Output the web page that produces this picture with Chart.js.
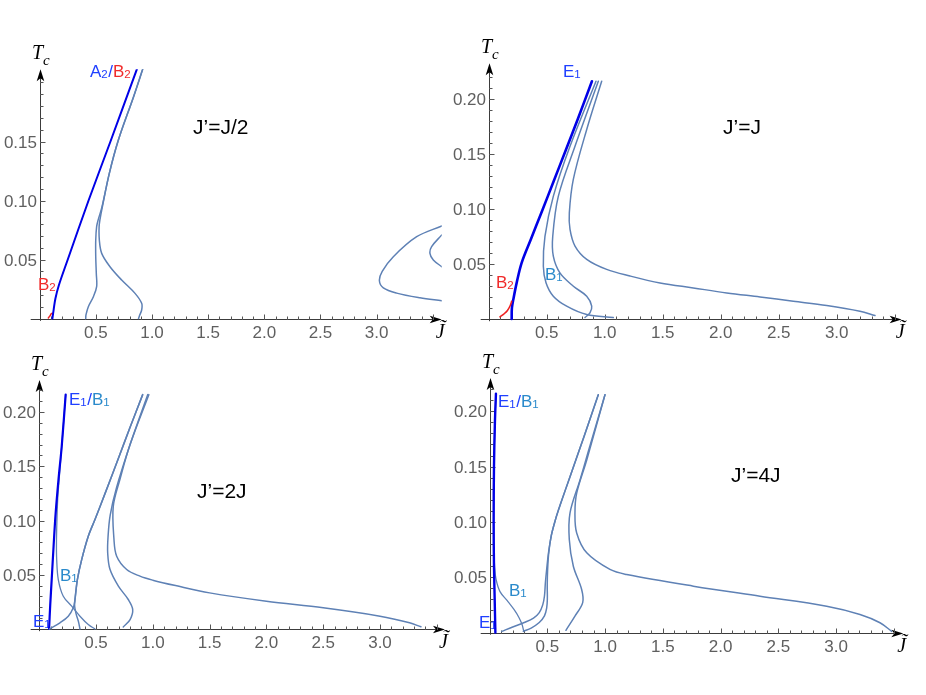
<!DOCTYPE html>
<html><head><meta charset="utf-8">
<script src="https://cdn.jsdelivr.net/npm/chart.js@4.4.0/dist/chart.umd.min.js"></script>
<style>
html,body{margin:0;padding:0;background:#fff;width:926px;height:695px;overflow:hidden}
canvas{position:absolute;left:0;top:0}
</style></head><body>
<canvas id="c0" width="926" height="695"></canvas>
<canvas id="c1" width="926" height="695"></canvas>
<canvas id="c2" width="926" height="695"></canvas>
<canvas id="c3" width="926" height="695"></canvas>
<script>
// ---------- DATA ----------
const panelTitles = ['J\u2019=J/2', 'J\u2019=J', 'J\u2019=2J', 'J\u2019=4J'];
const xTickValues = [0.5, 1.0, 1.5, 2.0, 2.5, 3.0];
const xTickLabels = ['0.5', '1.0', '1.5', '2.0', '2.5', '3.0'];
const yTickValuesTL = [0.05, 0.10, 0.15];
const yTickLabelsTL = ['0.05', '0.10', '0.15'];
const yTickValues = [0.05, 0.10, 0.15, 0.20];
const yTickLabels = ['0.05', '0.10', '0.15', '0.20'];

// J'=J/2
const tlBlueX = [0.113, 0.125, 0.14, 0.17, 0.25, 0.435, 0.63, 0.865];
const tlBlueY = [0, 0.008, 0.017, 0.028, 0.05, 0.10, 0.15, 0.2112];
const tlRedX = [0.077, 0.09, 0.103, 0.112];
const tlRedY = [0.0005, 0.002, 0.004, 0.0045];
const tlS1X = [0.917, 0.836, 0.70, 0.62, 0.555, 0.522, 0.507, 0.499, 0.499, 0.504, 0.507, 0.478, 0.433, 0.412, 0.41];
const tlS1Y = [0.2112, 0.188, 0.151, 0.123, 0.0947, 0.084, 0.0778, 0.0665, 0.0524, 0.0383, 0.027, 0.0185, 0.01, 0.003, 0];
const tlS2X = [0.917, 0.836, 0.70, 0.62, 0.558, 0.537, 0.529, 0.531, 0.552, 0.626, 0.73, 0.849, 0.908, 0.908, 0.887, 0.88];
const tlS2Y = [0.2112, 0.188, 0.151, 0.123, 0.0947, 0.084, 0.0778, 0.0665, 0.0552, 0.0439, 0.0326, 0.0213, 0.0129, 0.0072, 0.002, 0];
const tlP1X = [3.58, 3.357, 3.149, 3.05, 3.025, 3.06, 3.179, 3.386, 3.58];
const tlP1Y = [0.0784, 0.0693, 0.0524, 0.04, 0.032, 0.026, 0.0215, 0.0175, 0.015];
const tlP2X = [3.58, 3.49, 3.475, 3.505, 3.58];
const tlP2Y = [0.0708, 0.0609, 0.0552, 0.0496, 0.0439];

// J'=J
const trBlueX = [0.198, 0.2, 0.212, 0.241, 0.284, 0.362, 0.46, 0.56, 0.66, 0.77, 0.89];
const trBlueY = [0, 0.01, 0.0176, 0.0328, 0.051, 0.072, 0.098, 0.125, 0.152, 0.182, 0.2157];
const trRedX = [0.097, 0.13, 0.16, 0.185, 0.198];
const trRedY = [0.002, 0.0045, 0.0075, 0.012, 0.016];
const trS1X = [0.925, 0.701, 0.557, 0.485, 0.471, 0.494, 0.557, 0.672, 0.845, 1.074];
const trS1Y = [0.2157, 0.1567, 0.1113, 0.075, 0.0478, 0.0329, 0.0207, 0.0116, 0.004, 0.0013];
const trS2X = [0.945, 0.744, 0.6, 0.552, 0.557, 0.614, 0.73, 0.845, 0.888, 0.873, 0.83];
const trS2Y = [0.2157, 0.1567, 0.1113, 0.075, 0.057, 0.0418, 0.0297, 0.0207, 0.0116, 0.0056, 0.0013];
const trS3X = [0.974, 0.845, 0.729, 0.695, 0.701, 0.744, 0.845, 1.017, 1.218, 1.477, 1.764, 2.052, 2.339, 2.626, 2.914, 3.2, 3.33];
const trS3Y = [0.2157, 0.172, 0.1265, 0.0963, 0.0813, 0.0662, 0.0541, 0.045, 0.039, 0.0327, 0.0282, 0.0237, 0.0200, 0.0161, 0.0122, 0.007, 0.0031];

// J'=2J
const blBlueX = [0.087, 0.097, 0.11, 0.127, 0.145, 0.17, 0.198, 0.233];
const blBlueY = [0, 0.022, 0.0456, 0.077, 0.107, 0.138, 0.168, 0.216];
const blB1X = [0.233, 0.198, 0.177, 0.163, 0.156, 0.152, 0.154, 0.168, 0.212, 0.286, 0.359, 0.432, 0.491];
const blB1Y = [0.216, 0.168, 0.14, 0.12, 0.1, 0.08, 0.064, 0.0456, 0.0302, 0.0211, 0.0118, 0.0041, 0];
const blR1X = [0.091, 0.183, 0.256, 0.3, 0.315, 0.336, 0.374, 0.432, 0.491, 0.58, 0.70, 0.80, 0.911];
const blR1Y = [0, 0.0057, 0.0118, 0.0195, 0.0272, 0.0456, 0.064, 0.0855, 0.101, 0.125, 0.158, 0.186, 0.216];
const blR2X = [0.359, 0.345, 0.325, 0.312, 0.315, 0.336, 0.374, 0.432, 0.491, 0.58, 0.70, 0.80, 0.911];
const blR2Y = [0, 0.007, 0.014, 0.021, 0.0272, 0.0456, 0.064, 0.0855, 0.101, 0.125, 0.158, 0.186, 0.216];
const blSX = [0.955, 0.80, 0.68, 0.625, 0.606, 0.603, 0.623, 0.697, 0.784, 0.823, 0.80, 0.74];
const blSY = [0.216, 0.17, 0.13, 0.105, 0.085, 0.07, 0.055, 0.0395, 0.0272, 0.018, 0.0087, 0.0019];
const blBigX = [0.965, 0.80, 0.711, 0.652, 0.658, 0.682, 0.77, 0.887, 1.0, 1.2, 1.5, 2.0, 2.5, 3.0, 3.26, 3.36];
const blBigY = [0.216, 0.17, 0.138, 0.113, 0.083, 0.067, 0.0548, 0.0487, 0.045, 0.040, 0.0333, 0.0256, 0.0195, 0.0118, 0.0057, 0.002];

// J'=4J
const brBlueX = [0.05, 0.044, 0.038, 0.035, 0.038, 0.046, 0.055];
const brBlueY = [0, 0.03, 0.06, 0.1, 0.15, 0.19, 0.216];
const brB1X = [0.055, 0.046, 0.038, 0.035, 0.037, 0.043, 0.056, 0.09, 0.151, 0.211, 0.254, 0.281, 0.294];
const brB1Y = [0.216, 0.19, 0.15, 0.1, 0.075, 0.06, 0.048, 0.037, 0.029, 0.0208, 0.0136, 0.0072, 0.0018];
const brR1X = [0.105, 0.2, 0.3, 0.38, 0.43, 0.46, 0.475, 0.483, 0.495, 0.51, 0.535, 0.57, 0.61, 0.70, 0.82, 0.941];
const brR1Y = [0.001, 0.005, 0.009, 0.013, 0.018, 0.025, 0.033, 0.045, 0.058, 0.072, 0.088, 0.102, 0.115, 0.142, 0.178, 0.215];
const brR2X = [0.292, 0.36, 0.43, 0.475, 0.494, 0.5, 0.499, 0.502, 0.512, 0.535, 0.57, 0.61, 0.70, 0.82, 0.941];
const brR2Y = [0.001, 0.004, 0.009, 0.015, 0.022, 0.03, 0.042, 0.056, 0.072, 0.088, 0.102, 0.115, 0.142, 0.178, 0.215];
const brSX = [0.999, 0.85, 0.783, 0.696, 0.69, 0.725, 0.797, 0.806, 0.739, 0.661];
const brSY = [0.215, 0.162, 0.138, 0.108, 0.0841, 0.0599, 0.0389, 0.027, 0.0148, 0.002];
const brBigX = [0.999, 0.841, 0.754, 0.739, 0.754, 0.841, 1.042, 1.187, 1.764, 2.341, 2.918, 3.207, 3.38, 3.481];
const brBigY = [0.215, 0.156, 0.126, 0.108, 0.09, 0.072, 0.057, 0.0524, 0.0419, 0.0328, 0.0238, 0.0163, 0.0088, 0.001];

// ---------- STYLE / LAYOUT ----------
const STEEL = '#5e81b5', BLUE = '#0000e6', RED = '#ee2222';
const LBLUE = '#2040ff', LRED = '#f02a2a', LTEAL = '#2a8acb';
const W = 926, H = 695;
const layouts = [
  {x0: 39.7, ux: 112.3, y0: 318.5, uy: 1180, xMin: -0.08, xMax: 3.58, yMin: -0.002, yMax: 0.2112},
  {x0: 488.7, ux: 116, y0: 319, uy: 1102, xMin: -0.069, xMax: 3.56, yMin: -0.002, yMax: 0.232},
  {x0: 39.2, ux: 113.6, y0: 629, uy: 1085, xMin: -0.075, xMax: 3.572, yMin: -0.002, yMax: 0.2295},
  {x0: 489.6, ux: 115.5, y0: 632.5, uy: 1106, xMin: -0.077, xMax: 3.582, yMin: -0.002, yMax: 0.23}
];
const panelSeries = [
  [ {x: tlS1X, y: tlS1Y, c: STEEL, w: 1.5}, {x: tlS2X, y: tlS2Y, c: STEEL, w: 1.5},
    {x: tlP1X, y: tlP1Y, c: STEEL, w: 1.5}, {x: tlP2X, y: tlP2Y, c: STEEL, w: 1.5},
    {x: tlBlueX, y: tlBlueY, c: BLUE, w: 2}, {x: tlRedX, y: tlRedY, c: RED, w: 1.5} ],
  [ {x: trS1X, y: trS1Y, c: STEEL, w: 1.5}, {x: trS2X, y: trS2Y, c: STEEL, w: 1.5},
    {x: trS3X, y: trS3Y, c: STEEL, w: 1.5}, {x: trRedX, y: trRedY, c: RED, w: 1.6},
    {x: trBlueX, y: trBlueY, c: BLUE, w: 2.6} ],
  [ {x: blR1X, y: blR1Y, c: STEEL, w: 1.5}, {x: blR2X, y: blR2Y, c: STEEL, w: 1.5},
    {x: blSX, y: blSY, c: STEEL, w: 1.5}, {x: blBigX, y: blBigY, c: STEEL, w: 1.5},
    {x: blBlueX, y: blBlueY, c: BLUE, w: 2.2}, {x: blB1X, y: blB1Y, c: STEEL, w: 1.3} ],
  [ {x: brR1X, y: brR1Y, c: STEEL, w: 1.5}, {x: brR2X, y: brR2Y, c: STEEL, w: 1.5},
    {x: brSX, y: brSY, c: STEEL, w: 1.5}, {x: brBigX, y: brBigY, c: STEEL, w: 1.5},
    {x: brBlueX, y: brBlueY, c: BLUE, w: 2.4}, {x: brB1X, y: brB1Y, c: STEEL, w: 1.3} ]
];
const panelLabels = [
  [ {x: 90, y: 77, parts: [['A', LBLUE], ['2', LBLUE, 1], ['/', LBLUE], ['B', LRED], ['2', LRED, 1]]},
    {x: 38, y: 290, parts: [['B', LRED], ['2', LRED, 1]]},
    {x: 193, y: 134, big: 1, parts: [[panelTitles[0], '#000']]} ],
  [ {x: 563, y: 77, parts: [['E', LBLUE], ['1', LBLUE, 1]]},
    {x: 496, y: 288, parts: [['B', LRED], ['2', LRED, 1]]},
    {x: 545, y: 280, parts: [['B', LTEAL], ['1', LTEAL, 1]]},
    {x: 723, y: 134, big: 1, parts: [[panelTitles[1], '#000']]} ],
  [ {x: 69, y: 405, parts: [['E', LBLUE], ['1', LBLUE, 1], ['/', LBLUE], ['B', LTEAL], ['1', LTEAL, 1]]},
    {x: 60, y: 581, parts: [['B', LTEAL], ['1', LTEAL, 1]]},
    {x: 33, y: 627, parts: [['E', LBLUE], ['1', LBLUE, 1]]},
    {x: 197, y: 498, big: 1, parts: [[panelTitles[2], '#000']]} ],
  [ {x: 498, y: 407, parts: [['E', LBLUE], ['1', LBLUE, 1], ['/', LBLUE], ['B', LTEAL], ['1', LTEAL, 1]]},
    {x: 509, y: 596, parts: [['B', LTEAL], ['1', LTEAL, 1]]},
    {x: 479, y: 628, parts: [['E', LBLUE], ['1', LBLUE, 1]]},
    {x: 731, y: 482, big: 1, parts: [[panelTitles[3], '#000']]} ]
];

const SANS = '"Liberation Sans", Arial, sans-serif';
const SERIF = '"Liberation Serif", "Times New Roman", serif';

function drawLabel(ctx, lab) {
  let x = lab.x;
  ctx.textAlign = 'left';
  ctx.textBaseline = 'alphabetic';
  for (const [t, color, sub] of lab.parts) {
    ctx.font = (lab.big ? '21px ' : (sub ? '11.5px ' : '17px ')) + SANS;
    ctx.fillStyle = color;
    ctx.fillText(t, x, lab.y + (sub ? 1 : 0));
    x += ctx.measureText(t).width + (sub ? 0.5 : 0);
  }
}

const axesPlugin = {
  id: 'axesDeco',
  beforeDatasetsDraw(chart, args, opts) {
    const i = opts.panel;
    const ctx = chart.ctx;
    const xs = chart.scales.x, ys = chart.scales.y;
    const ox = Math.round(xs.getPixelForValue(0)) + 0.5;
    const oy = Math.round(ys.getPixelForValue(0)) + 0.5;
    ctx.save();
    ctx.strokeStyle = '#3c3c3c';
    ctx.fillStyle = '#000';
    ctx.lineWidth = 1;
    // axis lines
    ctx.beginPath();
    ctx.moveTo(xs.left, oy); ctx.lineTo(xs.right - 8, oy);
    ctx.moveTo(ox, ys.bottom); ctx.lineTo(ox, ys.top + 8);
    ctx.stroke();
    // arrowheads
    ctx.beginPath();
    ctx.moveTo(xs.right, oy); ctx.lineTo(xs.right - 12, oy - 3.8); ctx.lineTo(xs.right - 9, oy); ctx.lineTo(xs.right - 12, oy + 3.8); ctx.closePath();
    ctx.fill();
    ctx.beginPath();
    ctx.moveTo(ox, ys.top); ctx.lineTo(ox - 3.8, ys.top + 12); ctx.lineTo(ox, ys.top + 9); ctx.lineTo(ox + 3.8, ys.top + 12); ctx.closePath();
    ctx.fill();
    // ticks
    ctx.strokeStyle = '#555';
    ctx.beginPath();
    for (let k = 1; k <= 35; k++) {
      const v = k / 10;
      const px = Math.round(xs.getPixelForValue(v)) + 0.5;
      const len = (k % 5 === 0) ? 5 : 3;
      ctx.moveTo(px, oy + 0.5); ctx.lineTo(px, oy - len);
    }
    const yTop = i === 0 ? 20 : 22;
    for (let k = 1; k <= yTop; k++) {
      const v = k / 100;
      const py = Math.round(ys.getPixelForValue(v)) + 0.5;
      const isMajor = (k % 5 === 0) && !(i === 0 && k === 20);
      const len = isMajor ? 5 : 3;
      ctx.moveTo(ox - 0.5, py); ctx.lineTo(ox + len, py);
    }
    ctx.stroke();
    // tick labels
    ctx.fillStyle = '#5f5f5f';
    ctx.font = '17px ' + SANS;
    ctx.textAlign = 'center';
    ctx.textBaseline = 'alphabetic';
    xTickValues.forEach((v, k) => {
      ctx.fillText(xTickLabels[k], xs.getPixelForValue(v), oy + 18);
    });
    ctx.textAlign = 'right';
    const yv = i === 0 ? yTickValuesTL : yTickValues;
    const yl = i === 0 ? yTickLabelsTL : yTickLabels;
    yv.forEach((v, k) => {
      ctx.fillText(yl[k], ox - 3.5, ys.getPixelForValue(v) + 6);
    });
    // axis titles
    ctx.fillStyle = '#000';
    ctx.textAlign = 'left';
    ctx.font = 'italic 20px ' + SERIF;
    ctx.fillText('T', ox - 8.5, ys.top - 10);
    ctx.font = 'italic 15px ' + SERIF;
    ctx.fillText('c', ox + 2.5, ys.top - 4);
    ctx.font = 'italic 20px ' + SERIF;
    ctx.fillText('J\u0303', xs.right - 6, oy + 18);
    // labels
    panelLabels[i].forEach(l => drawLabel(ctx, l));
    ctx.restore();
  }
};

const toPoints = (xa, ya) => xa.map((x, k) => ({x: x, y: ya[k]}));

layouts.forEach((L, i) => {
  const left = L.x0 + L.xMin * L.ux;
  const right = L.x0 + L.xMax * L.ux;
  const top = L.y0 - L.yMax * L.uy;
  const bottom = L.y0 - L.yMin * L.uy;
  new Chart(document.getElementById('c' + i), {
    type: 'scatter',
    data: {
      datasets: panelSeries[i].map(s => ({
        data: toPoints(s.x, s.y), showLine: true, borderColor: s.c, backgroundColor: s.c,
        borderWidth: s.w, pointRadius: 0, tension: 0.35, fill: false,
        borderCapStyle: 'round', borderJoinStyle: 'round'
      }))
    },
    options: {
      responsive: false, animation: false, events: [],
      layout: {padding: {left: left, right: W - right, top: top, bottom: H - bottom}},
      scales: {
        x: {type: 'linear', min: L.xMin, max: L.xMax, display: false},
        y: {type: 'linear', min: L.yMin, max: L.yMax, display: false}
      },
      plugins: {legend: {display: false}, tooltip: {enabled: false}, axesDeco: {panel: i}}
    },
    plugins: [axesPlugin]
  });
});
</script>
</body></html>
